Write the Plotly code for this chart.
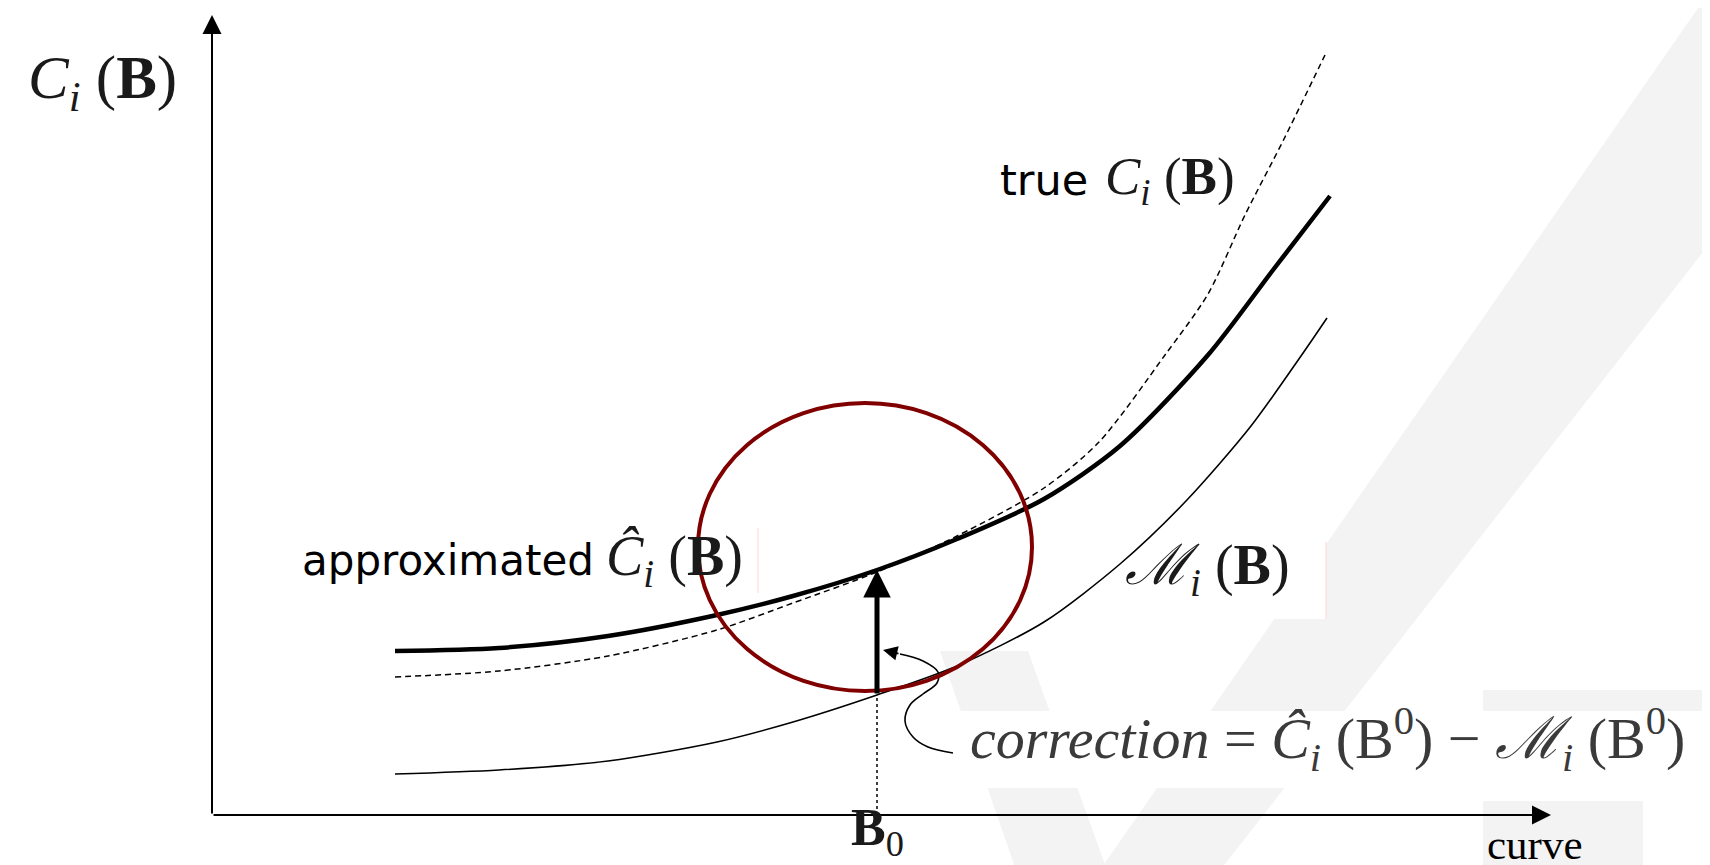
import plotly.graph_objects as go

W, H = 1710, 865

# ---- data (figure units: x along "curve", y = cost) ----
x_approx = [387, 491, 600, 709, 785, 869, 949, 1036, 1112, 1200, 1265, 1322]
y_approx = [222, 225, 237, 258, 277, 303, 334, 374, 427, 518, 603, 677]

x_true = [387, 491, 600, 709, 785, 869, 949, 1036, 1091, 1157, 1200, 1237, 1276, 1317]
y_true = [196, 202, 217, 243, 270, 301, 337, 385, 431, 518, 579, 658, 734, 818]

x_model = [387, 491, 600, 709, 785, 869, 949, 1036, 1112, 1178, 1243, 1293, 1319]
y_model = [99, 103, 112, 131, 151, 178, 207, 251, 309, 372, 447, 517, 555]

B0 = 869                       # design point
corr_low, corr_high = 178, 303  # M_i(B0) and C^_i(B0)

# pointer curve from the correction label to the correction arrow
x_ptr = [892, 915, 930, 929, 915, 902, 897, 905, 920, 945]
y_ptr = [219, 212, 201, 190, 179, 168, 152, 136, 126, 120]

# axes frame
origin_x, origin_y = 204, 58
y_axis_top = 858
x_axis_end = 1543

# trust region (ellipse)
ell_cx, ell_cy, ell_rx, ell_ry = 857, 326, 167, 144

SERIF = "Liberation Serif"
SANS = "DejaVu Sans"
INK = "#1a1a1a"
WM = "#f3f3f3"

fig = go.Figure()

# approximated (thick)
fig.add_trace(go.Scatter(x=x_approx, y=y_approx, mode="lines",
                         line=dict(color="black", width=4.5, shape="spline", smoothing=0.8),
                         hoverinfo="skip", showlegend=False))
# true (dashed)
fig.add_trace(go.Scatter(x=x_true, y=y_true, mode="lines",
                         line=dict(color="black", width=1.5, dash="6px,4px", shape="spline", smoothing=0.8),
                         hoverinfo="skip", showlegend=False))
# model (thin)
fig.add_trace(go.Scatter(x=x_model, y=y_model, mode="lines",
                         line=dict(color="black", width=1.6, shape="spline", smoothing=0.8),
                         hoverinfo="skip", showlegend=False))
# dotted drop line at B0
fig.add_trace(go.Scatter(x=[B0, B0], y=[origin_y, corr_low], mode="lines",
                         line=dict(color="black", width=1.5, dash="dot"),
                         hoverinfo="skip", showlegend=False))
# pointer curve
fig.add_trace(go.Scatter(x=x_ptr, y=y_ptr, mode="lines",
                         line=dict(color="black", width=1.6, shape="spline", smoothing=1.0),
                         hoverinfo="skip", showlegend=False))

shapes = []
# watermark (light grey) behind everything
shapes.append(dict(type="path", layer="below", line=dict(width=0), fillcolor=WM,
                   path="M 1090 0 L 1210 0 L 1710 640 L 1710 865 L 1690 865 Z"))
shapes.append(dict(type="path", layer="below", line=dict(width=0), fillcolor=WM,
                   path="M 932 222 L 1020 222 L 1100 0 L 1009 0 Z"))
shapes.append(dict(type="rect", layer="below", line=dict(width=0), fillcolor=WM,
                   x0=1475, x1=1710, y0=162, y1=183))
shapes.append(dict(type="rect", layer="below", line=dict(width=0), fillcolor=WM,
                   x0=1475, x1=1635, y0=0, y1=72))
# white label boxes covering the watermark
shapes.append(dict(type="rect", layer="below", line=dict(width=0), fillcolor="white",
                   x0=947, x1=1710, y0=85, y1=162))
shapes.append(dict(type="rect", layer="below", line=dict(width=0), fillcolor="white",
                   x0=1112, x1=1318, y0=254, y1=331))
# faint pink box edges
shapes.append(dict(type="line", layer="below", line=dict(color="#ffd6d6", width=1),
                   x0=1318, x1=1318, y0=254, y1=331))
shapes.append(dict(type="line", layer="below", line=dict(color="#ffd6d6", width=1),
                   x0=750, x1=750, y0=280, y1=345))
# trust-region ellipse
shapes.append(dict(type="circle", layer="above", line=dict(color="#800000", width=4),
                   x0=ell_cx - ell_rx, x1=ell_cx + ell_rx, y0=ell_cy - ell_ry, y1=ell_cy + ell_ry))

ann = []

def arrow(x_tip, y_tip, x_tail, y_tail, width, size, head=2):
    ann.append(dict(x=x_tip, y=y_tip, ax=x_tail, ay=y_tail, xref="x", yref="y",
                    axref="x", ayref="y", text="", showarrow=True, arrowhead=head,
                    arrowwidth=width, arrowsize=size, arrowcolor="black", standoff=0,
                    startstandoff=0))

# axes
arrow(origin_x, y_axis_top, origin_x, origin_y, 2, 1.9)
arrow(x_axis_end, origin_y, origin_x, origin_y, 2, 1.9)
# correction arrow
arrow(B0, corr_high, B0, corr_low, 5, 1.1)
# pointer arrow head
arrow(875, 223, x_ptr[0], y_ptr[0], 1.6, 1.8)

def label(x, y, text, size, family, anchor="left", color=INK, yanchor="middle", yshift=0):
    ann.append(dict(x=x, y=y, xref="x", yref="y", text=text, showarrow=False,
                    xanchor=anchor, yanchor=yanchor, yshift=yshift,
                    font=dict(family=family, size=size, color=color)))

label(94, 791, "<i>C</i><sub><i>i</i></sub>&nbsp;(<b>B</b>)", 61, SERIF, "center")
label(990, 693, "true", 43, SANS, color="black")
label(1095, 693, "<i>C</i><sub><i>i</i></sub> (<b>B</b>)", 53, SERIF)
label(292, 313, "approximated", 42, SANS, color="black")
label(596, 313, "<i>Ĉ</i><sub><i>i</i></sub> (<b>B</b>)", 56, SERIF)
label(1115, 304, "<i>ℳ</i><sub><i>i</i></sub> (<b>B</b>)", 56, SERIF)
label(960, 134, "<i>correction</i> = <i>Ĉ</i><sub><i>i</i></sub> (B<sup>0</sup>) − <i>ℳ</i><sub><i>i</i></sub> (B<sup>0</sup>)",
      58, SERIF, color="#3a3a3a")
label(B0, 0, "<b>B</b><sub>0</sub>", 52, SERIF, "center", yanchor="bottom", yshift=7)
label(1527, 0, "curve", 43, SERIF, "center", color="black", yanchor="bottom", yshift=3)

fig.update_layout(
    width=W, height=H, margin=dict(l=0, r=0, t=0, b=0),
    paper_bgcolor="white", plot_bgcolor="white",
    xaxis=dict(range=[0, W], visible=False, fixedrange=True),
    yaxis=dict(range=[0, H], visible=False, fixedrange=True),
    shapes=shapes, annotations=ann, showlegend=False,
)

fig.write_html("out.html", config=dict(displayModeBar=False))
